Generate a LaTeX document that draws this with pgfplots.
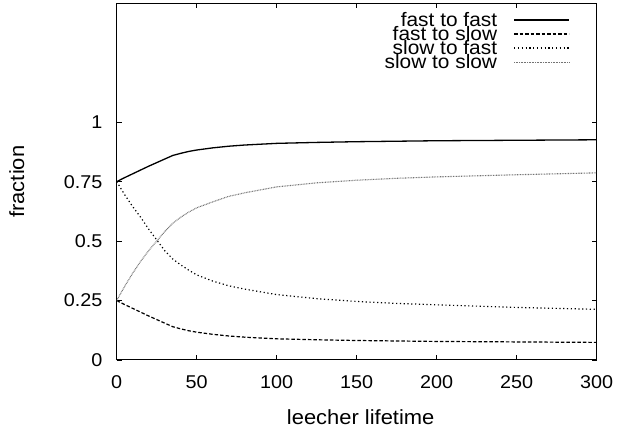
\documentclass[border=0pt]{standalone}
\usepackage{pgfplots}
\pgfplotsset{compat=1.18}
\usepackage{fontspec}
\setmainfont{Liberation Sans}[FakeStretch=1.07]

% Fraction of peers moving between the fast and slow classes
\pgfplotstableread{
x    ff     fs     sf     ss
0    0.750  0.250  0.750  0.250
5    0.767  0.233  0.695  0.310
10   0.783  0.217  0.645  0.365
15   0.799  0.201  0.600  0.415
20   0.815  0.185  0.550  0.460
25   0.830  0.170  0.505  0.500
30   0.845  0.155  0.460  0.540
35   0.860  0.140  0.425  0.575
40   0.869  0.131  0.400  0.600
45   0.877  0.123  0.378  0.622
50   0.883  0.117  0.358  0.640
60   0.892  0.108  0.332  0.665
70   0.899  0.101  0.312  0.688
80   0.904  0.096  0.298  0.703
100  0.911  0.089  0.275  0.728
125  0.915  0.085  0.258  0.745
150  0.918  0.082  0.246  0.756
175  0.920  0.080  0.238  0.764
200  0.922  0.078  0.232  0.770
250  0.924  0.076  0.221  0.779
300  0.926  0.074  0.213  0.787
}\transitions

\begin{document}
\begin{tikzpicture}[font=\fontsize{18.5}{20}\selectfont]
\begin{axis}[
  name=ax,
  scale only axis,
  width=480pt, height=356.7pt,
  xmin=0, xmax=300, ymin=0, ymax=1.5,
  xtick={0,50,100,150,200,250,300},
  xticklabels={0,50,100,150,200,250,300},
  ytick={0,0.25,0.5,0.75,1},
  yticklabels={0,0.25,0.5,0.75,1},
  /pgf/number format/assume math mode=true,
  tick align=inside,
  major tick length=5pt,
  tick style={line width=0.8pt, black},
  axis line style={line width=1pt},
  every x tick label/.append style={anchor=base, yshift=-28.3pt, inner sep=0pt},
  every y tick label/.append style={anchor=east, xshift=-14pt, inner sep=0pt},
  xlabel={leecher lifetime},
  ylabel={fraction},
  every axis x label/.style={at={(axis description cs:0.5,0)}, anchor=base,
    yshift=-65pt, xshift=4pt, font=\fontsize{20.5}{22}\selectfont},
  every axis y label/.style={at={(axis description cs:0,0.5)}, anchor=center,
    rotate=90, yshift=100pt, font=\fontsize{20.5}{22}\selectfont},
  legend plot pos=right,
  legend cell align=right,
  legend image code/.code={\draw[#1] (0pt,0pt) -- (55pt,0pt);},
  legend style={at={(rel axis cs:1,1)}, anchor=north east,
    xshift=-26.7pt, yshift=-9.5pt, draw=none, fill=none, inner sep=0pt,
    row sep=0.3pt, column sep=16pt, font=\fontsize{19.5}{21}\selectfont,
    nodes={inner sep=0.4pt, text height=13pt, text depth=0pt}},
]
\addplot[black, line width=1.3pt] table[x=x, y=ff] {\transitions};
\addlegendentry{fast to fast}
\addplot[black, line width=1.2pt, dash pattern=on 3.5pt off 2pt] table[x=x, y=fs] {\transitions};
\addlegendentry{fast to slow}
\addplot[black, line width=1.2pt, dash pattern=on 1.2pt off 2.6pt] table[x=x, y=sf] {\transitions};
\addlegendentry{slow to fast}
\addplot[black!55, line width=1.1pt, dash pattern=on 0.8pt off 0.8pt] table[x=x, y=ss] {\transitions};
\addlegendentry{slow to slow}
\end{axis}
\pgfresetboundingbox
\path ([shift={(-116.7pt,-70pt)}]ax.south west) rectangle ++(619pt,430pt);
\end{tikzpicture}
\end{document}
